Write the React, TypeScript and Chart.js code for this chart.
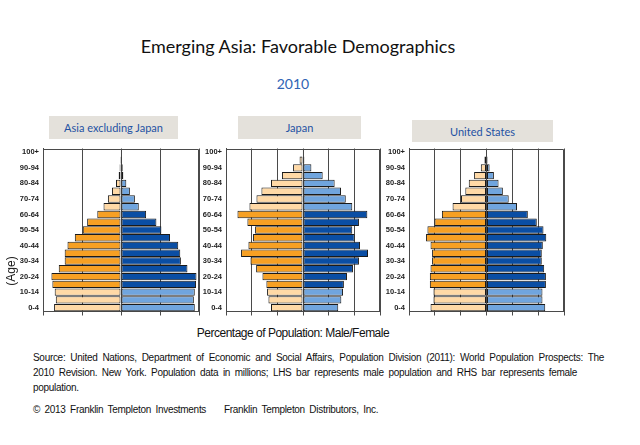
import React, { useEffect, useRef } from "react";
import { Chart, registerables } from "chart.js";

Chart.register(...registerables);

// Age groups, top of the pyramid first
const ageGroups = [
  "100+", "95-99", "90-94", "85-89", "80-84", "75-79", "70-74", "65-69",
  "60-64", "55-59", "50-54", "45-49", "40-44", "35-39", "30-34", "25-29",
  "20-24", "15-19", "10-14", "5-9", "0-4",
];

// Asia excluding Japan (% of population)
const asiaMale = [
  0.04, 0.06, 0.09, 0.15, 0.32, 0.58, 0.84, 1.12, 1.52, 2.17, 2.45,
  2.96, 3.43, 3.61, 3.61, 3.99, 4.46, 4.4, 4.25, 4.18, 4.29,
];
const asiaFemale = [
  0.02, 0.06, 0.11, 0.15, 0.34, 0.57, 0.89, 1.14, 1.61, 2.27, 2.59,
  3.14, 3.67, 3.8, 3.84, 4.26, 4.84, 4.81, 4.73, 4.67, 4.73,
];

// Japan
const japanMale = [
  0.02, 0.2, 0.58, 1.23, 1.87, 2.43, 2.72, 3.13, 3.83, 3.25, 2.8,
  2.92, 3.19, 3.62, 3.07, 2.74, 2.37, 2.14, 2.1, 2.02, 1.87,
];
const japanFemale = [
  0.02, 0.08, 0.49, 1.15, 1.85, 2.22, 2.5, 2.88, 3.76, 3.27, 2.88,
  3.02, 3.33, 3.8, 3.27, 2.92, 2.57, 2.39, 2.34, 2.24, 2.06,
];

// United States
const usMale = [
  0.02, 0.12, 0.33, 0.72, 1.03, 1.23, 1.48, 1.97, 2.59, 3.02, 3.43,
  3.51, 3.25, 3.16, 3.16, 3.25, 3.29, 3.29, 3.08, 3.08, 3.25,
];
const usFemale = [
  0.02, 0.06, 0.18, 0.43, 0.7, 0.95, 1.29, 1.77, 2.4, 2.92, 3.31,
  3.47, 3.27, 3.21, 3.21, 3.35, 3.45, 3.45, 3.25, 3.25, 3.41,
];

// Axis extents / grid steps per panel
const asiaAxis = [5, 2.5];
const japanAxis = [4.5, 1.5];
const usAxis = [4.5, 1.5];

const workingAge = ["15-19", "20-24", "25-29", "30-34", "35-39", "40-44", "45-49", "50-54", "55-59", "60-64"];

const ORANGE = "#F7A023";
const PEACH = "#FFD9A6";
const DARKBLUE = "#0A4EA4";
const LIGHTBLUE = "#70A5DE";
const GRID = "#4a4a4a";
const EDGE = "#1a1a1a";

const boxPlugin = {
  id: "boxBorder",
  afterDraw(chart: any) {
    const { ctx, chartArea } = chart;
    ctx.save();
    ctx.strokeStyle = GRID;
    ctx.lineWidth = 1;
    const l = Math.round(chartArea.left) + 0.5;
    const r = Math.round(chartArea.right) - 0.5;
    const t = Math.round(chartArea.top) + 0.5;
    const b = Math.round(chartArea.bottom) - 0.5;
    ctx.beginPath();
    ctx.moveTo(l, b);
    ctx.lineTo(l, t);
    ctx.lineTo(r, t);
    ctx.lineTo(r, b);
    ctx.stroke();
    ctx.restore();
  },
};

function Pyramid(props: {
  male: number[];
  female: number[];
  axis: number[];
  left: number;
  width: number;
  yWidth: number;
}) {
  const ref = useRef<HTMLCanvasElement | null>(null);
  useEffect(() => {
    if (!ref.current) return;
    const dark = (i: number) => workingAge.includes(ageGroups[i]);
    const chart = new Chart(ref.current, {
      type: "bar",
      data: {
        labels: ageGroups,
        datasets: [
          {
            label: "Male",
            data: props.male.map((v) => -v),
            backgroundColor: ageGroups.map((_, i) => (dark(i) ? ORANGE : PEACH)),
            borderColor: EDGE,
            borderWidth: 1,
            borderSkipped: false,
            barPercentage: 0.95,
            categoryPercentage: 1,
          },
          {
            label: "Female",
            data: props.female,
            backgroundColor: ageGroups.map((_, i) => (dark(i) ? DARKBLUE : LIGHTBLUE)),
            borderColor: EDGE,
            borderWidth: 1,
            borderSkipped: false,
            barPercentage: 0.95,
            categoryPercentage: 1,
          },
        ],
      },
      options: {
        indexAxis: "y",
        animation: false,
        responsive: false,
        maintainAspectRatio: false,
        events: [],
        layout: { padding: { top: 7, right: 1, left: 0, bottom: 0 } },
        plugins: { legend: { display: false }, tooltip: { enabled: false } },
        scales: {
          x: {
            type: "linear",
            stacked: true,
            min: -props.axis[0],
            max: props.axis[0],
            ticks: { display: false, stepSize: props.axis[1] },
            grid: { color: GRID, lineWidth: 1, drawTicks: true, tickLength: 4, tickColor: GRID },
            border: { display: true, color: GRID },
            afterFit: (s: any) => {
              s.height = 7;
            },
          },
          y: {
            stacked: true,
            ticks: {
              autoSkip: false,
              padding: 4,
              color: "#222",
              font: { family: "'Liberation Sans', Arial, sans-serif", size: 7.5, weight: "bold" },
              callback: (_v: any, i: number) => (i % 2 === 0 ? ageGroups[i] : ""),
            },
            grid: { display: false, drawTicks: false },
            border: { display: true, color: GRID },
            afterFit: (s: any) => {
              s.width = props.yWidth;
            },
          },
        },
      },
      plugins: [boxPlugin],
    } as any);
    return () => chart.destroy();
  }, []);
  return (
    <canvas
      ref={ref}
      width={props.width}
      height={180}
      style={{ position: "absolute", left: props.left, top: 140, width: props.width, height: 180 }}
    />
  );
}

const headerStyle: React.CSSProperties = {
  position: "absolute",
  background: "#E4E1DB",
  color: "#1F52A3",
  fontFamily: "Lato, 'Open Sans', sans-serif",
  fontSize: 11,
  textAlign: "center",
  display: "flex",
  alignItems: "center",
  justifyContent: "center",
};

const srcStyle: React.CSSProperties = {
  position: "absolute",
  left: 33,
  fontFamily: "'Liberation Sans', Arial, sans-serif",
  fontSize: 10,
  letterSpacing: -0.3,
  color: "#111",
  whiteSpace: "nowrap",
  lineHeight: "12px",
};

export default function App() {
  return (
    <div
      style={{
        position: "absolute",
        left: 0,
        top: 0,
        width: 640,
        height: 445,
        background: "#fff",
        overflow: "hidden",
      }}
    >
      <div
        style={{
          position: "absolute",
          left: 0,
          width: 596,
          top: 35,
          textAlign: "center",
          fontFamily: "Lato, 'Open Sans', sans-serif",
          fontSize: 18,
          lineHeight: "22px",
          color: "#111",
        }}
      >
        Emerging Asia: Favorable Demographics
      </div>
      <div
        style={{
          position: "absolute",
          left: 0,
          width: 586,
          top: 76,
          textAlign: "center",
          fontFamily: "Lato, 'Open Sans', sans-serif",
          fontSize: 14,
          lineHeight: "16px",
          color: "#2F64B5",
        }}
      >
        2010
      </div>

      <div style={{ ...headerStyle, left: 49, top: 116, width: 129, height: 23 }}>Asia excluding Japan</div>
      <div style={{ ...headerStyle, left: 238, top: 116, width: 123, height: 23 }}>Japan</div>
      <div style={{ ...headerStyle, left: 412, top: 120, width: 141, height: 22 }}>United States</div>

      <Pyramid male={asiaMale} female={asiaFemale} axis={asiaAxis} left={0} width={200} yWidth={43} />
      <Pyramid male={japanMale} female={japanFemale} axis={japanAxis} left={200} width={181} yWidth={26} />
      <Pyramid male={usMale} female={usFemale} axis={usAxis} left={382} width={183} yWidth={27} />

      <div
        style={{
          position: "absolute",
          left: 11 - 30,
          top: 271 - 8,
          width: 60,
          height: 16,
          lineHeight: "16px",
          textAlign: "center",
          transform: "rotate(-90deg)",
          fontFamily: "'Liberation Sans', Arial, sans-serif",
          fontSize: 12,
          color: "#222",
        }}
      >
        (Age)
      </div>

      <div
        style={{
          position: "absolute",
          left: 0,
          width: 586,
          top: 326,
          textAlign: "center",
          fontFamily: "'Liberation Sans', Arial, sans-serif",
          fontSize: 12,
          letterSpacing: -0.5,
          lineHeight: "14px",
          color: "#111",
        }}
      >
        Percentage of Population: Male/Female
      </div>

      <div style={{ ...srcStyle, top: 352, width: 571, textAlign: "justify", textAlignLast: "justify" as any, whiteSpace: "normal" }}>
        Source: United Nations, Department of Economic and Social Affairs, Population Division (2011): World Population Prospects: The
      </div>
      <div style={{ ...srcStyle, top: 367, width: 544, textAlign: "justify", textAlignLast: "justify" as any, whiteSpace: "normal" }}>
        2010 Revision. New York. Population data in millions; LHS bar represents male population and RHS bar represents female
      </div>
      <div style={{ ...srcStyle, top: 382 }}>population.</div>
      <div style={{ ...srcStyle, top: 404, wordSpacing: 2, whiteSpace: "pre" }}>
        {"© 2013 Franklin Templeton Investments    Franklin Templeton Distributors, Inc."}
      </div>
    </div>
  );
}
